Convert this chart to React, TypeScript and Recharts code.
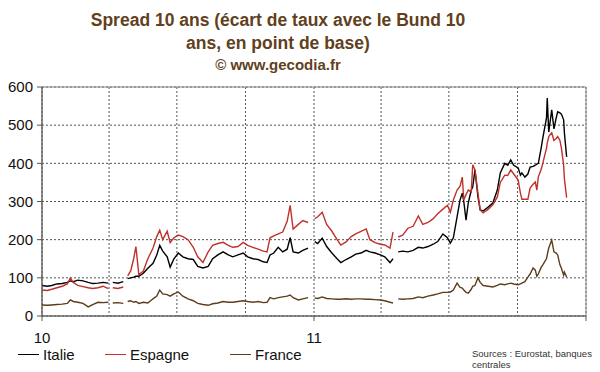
import React from "react";
import {
  LineChart,
  Line,
  XAxis,
  YAxis,
  CartesianGrid,
  ReferenceArea,
} from "recharts";

// jours depuis le 1er janvier 2010 (null = trou dans la série)
const days = [
  0, 7, 13, 20, 27, 34, 38, 42, 48, 55, 62, 68, 75, 82, 89, 92, 95, 102, 109,
  113, 115, 119, 123, 126, 130, 136, 142, 149, 154, 158, 162, 168, 172, 177,
  183, 189, 196, 203, 209, 216, 223, 229, 236, 243, 250, 256, 263, 270, 276,
  283, 290, 297, 302, 306, 311, 317, 323, 329, 333, 337, 344, 350, 357, 361,
  366, 370, 376, 382, 389, 396, 401, 408, 415, 421, 428, 435, 440, 447, 454,
  460, 467, 471, 474, 478, 484, 491, 498, 505, 511, 518, 525, 531, 538, 544,
  548, 552, 557, 561, 564, 566, 569, 572, 576, 578, 581, 585, 588, 592, 599,
  605, 611, 615, 621, 625, 629, 633, 639, 642, 644, 648, 652, 655, 659, 662,
  664, 666, 670, 672, 677, 678, 680, 684, 687, 690, 692, 695, 697, 700, 701,
  704,
];

const italie = [
  80, 78, 80, 84, 85, 88, 92, 90, 94, 92, 88, 85, 86, 88, 86, null, 88, 86, 90,
  null, 98, 100, 102, 104, 104, 112, 125, 138, 160, 185, 170, 155, 128, 150,
  165, 155, 150, 148, 130, 126, 130, 150, 160, 168, 160, 155, 160, 165, 155,
  150, 148, 142, 140, 160, 165, 180, 168, 175, 205, 168, 165, 172, 178, null,
  195, 190, 204, 182, 165, 150, 140, 148, 155, 162, 165, 172, 168, 165, 160,
  155, 140, 150, null, 168, 170, 168, 172, 180, 178, 182, 188, 195, 215, 205,
  191, 205, 260, 304, 322, 300, 251, 296, 330, 338, 383, 312, 278, 275, 286,
  296, 330, 375, 400, 395, 409, 395, 388, 369, 375, 364, 372, 390, 392, 395,
  398, 400, 442, 466, 519, 571, 482, 540, 490, 519, 535, 532, 529, 514, 480,
  417,
];

const espagne = [
  68, 67, 70, 74, 78, 84, 100, 88, 80, 77, 74, 72, 74, 78, 72, null, 74, 72, 76,
  null, 105, 118, 150, 182, 108, 118, 150, 178, 208, 225, 200, 222, 192, 205,
  212, 208, 200, 180, 155, 140, 168, 185, 190, 193, 185, 180, 182, 193, 185,
  180, 175, 170, 168, 205, 210, 215, 220, 248, 290, 228, 240, 250, 245, null,
  255, 260, 272, 240, 222, 200, 186, 194, 208, 215, 222, 228, 200, 192, 188,
  186, 178, 220, null, 207, 212, 230, 235, 262, 240, 245, 255, 268, 280, 290,
  272, 304, 330, 340, 364, 304, 318, 330, 325, 396, 383, 322, 278, 270, 280,
  291, 312, 350, 369, 368, 383, 372, 356, 322, 306, 306, 306, 335, 345, 351,
  330, 364, 385, 400, 440, 453, 470, 480, 460, 465, 470, 460, 440, 396, 360,
  310,
];

const france = [
  29, 28, 29, 30, 31, 33, 42, 38, 36, 33, 24, 30, 36, 35, 36, null, 34, 35, 33,
  null, 38, 40, 36, 38, 33, 36, 34, 45, 52, 68, 58, 56, 52, 58, 63, 52, 45, 40,
  33, 30, 28, 32, 34, 38, 36, 36, 38, 40, 38, 36, 38, 35, 36, 48, 45, 48, 50,
  52, 55, 48, 42, 45, 48, null, 47, 46, 50, 46, 45, 44, 44, 45, 44, 45, 45, 44,
  44, 43, 42, 40, 36, 34, null, 45, 44, 45, 46, 50, 48, 52, 55, 58, 62, 62, 63,
  68, 86, 75, 73, 68, 62, 60, 70, 78, 80, 100, 88, 80, 78, 76, 80, 84, 82, 84,
  86, 84, 82, 84, 86, 90, 102, 110, 126, 120, 104, 110, 128, 134, 150, 160,
  178, 199, 168, 165, 160, 134, 125, 107, 115, 102,
];

const quarterTicks = [0, 90, 181, 273, 365, 455, 546, 638, 730];
const yearLabels: Record<number, string> = { 0: "10", 365: "11", 730: "" };
const yTicks = [0, 100, 200, 300, 400, 500, 600];

const seriesList = [
  { key: "italie", name: "Italie", color: "#000000" },
  { key: "espagne", name: "Espagne", color: "#c0312b" },
  { key: "france", name: "France", color: "#5c3d1c" },
];

const data = days.map((day, i) => ({
  day,
  italie: italie[i],
  espagne: espagne[i],
  france: france[i],
}));

const font = "Arial, 'Liberation Sans', sans-serif";
const titleColor = "#623f1d";

function YearTick(props: any) {
  const { x, y, payload } = props;
  const label = yearLabels[payload.value];
  if (label === undefined) return null;
  return (
    <g>
      <line x1={x} y1={y} x2={x} y2={y + 5} stroke="#555" />
      <text
        x={x}
        y={y + 27}
        textAnchor="middle"
        fontSize={15}
        fontFamily={font}
        fill="#111"
      >
        {label}
      </text>
    </g>
  );
}

function ChartLegend() {
  const pos = [18, 105, 230];
  return (
    <div style={{ position: "absolute", left: 0, top: 346, height: 20 }}>
      {seriesList.map((s, i) => (
        <div
          key={s.key}
          style={{
            position: "absolute",
            left: pos[i],
            top: 0,
            display: "flex",
            alignItems: "center",
            fontSize: 15,
            color: "#111",
            whiteSpace: "nowrap",
          }}
        >
          <span
            style={{
              display: "inline-block",
              width: 21,
              height: 0,
              borderTop: `1.5px solid ${s.color}`,
              marginRight: 4,
            }}
          />
          {s.name}
        </div>
      ))}
    </div>
  );
}

export default function App() {
  return (
    <div
      style={{
        position: "absolute",
        left: 0,
        top: 0,
        width: 600,
        height: 372,
        background: "#fff",
        fontFamily: font,
      }}
    >
      <div
        style={{
          position: "absolute",
          left: 0,
          width: 556,
          top: 9,
          textAlign: "center",
          color: titleColor,
          fontWeight: "bold",
        }}
      >
        <div style={{ fontSize: 17.5, lineHeight: "23px" }}>
          Spread 10 ans (écart de taux avec le Bund 10
        </div>
        <div style={{ fontSize: 17.5, lineHeight: "23px" }}>
          ans, en point de base)
        </div>
        <div style={{ fontSize: 15, lineHeight: "20px" }}>© www.gecodia.fr</div>
      </div>

      <LineChart
        width={600}
        height={372}
        data={data}
        margin={{ top: 87, right: 14, left: 0, bottom: 26 }}
        style={{ position: "absolute", left: 0, top: 0 }}
      >
        <CartesianGrid stroke="#555" strokeDasharray="2 2" />
        <ReferenceArea
          x1={0}
          x2={730}
          y1={0}
          y2={600}
          fill="none"
          stroke="#888"
          strokeWidth={1}
        />
        <XAxis
          dataKey="day"
          type="number"
          domain={[0, 730]}
          ticks={quarterTicks}
          tickLine={false}
          tickSize={0}
          tickMargin={0}
          height={30}
          stroke="#555"
          tick={<YearTick />}
          interval={0}
        />
        <YAxis
          domain={[0, 600]}
          ticks={yTicks}
          width={42}
          tickSize={5}
          tickMargin={4}
          stroke="#555"
          tick={{ fontSize: 15, fill: "#111", fontFamily: font }}
          interval={0}
        />
        {seriesList.map((s) => (
          <Line
            key={s.key}
            type="linear"
            dataKey={s.key}
            name={s.name}
            stroke={s.color}
            strokeWidth={1.4}
            dot={false}
            isAnimationActive={false}
          />
        ))}
      </LineChart>

      <ChartLegend />

      <div
        style={{
          position: "absolute",
          left: 472,
          top: 348,
          fontSize: 9.5,
          lineHeight: "11px",
          color: "#333",
        }}
      >
        Sources : Eurostat, banques
        <br />
        centrales
      </div>
    </div>
  );
}
